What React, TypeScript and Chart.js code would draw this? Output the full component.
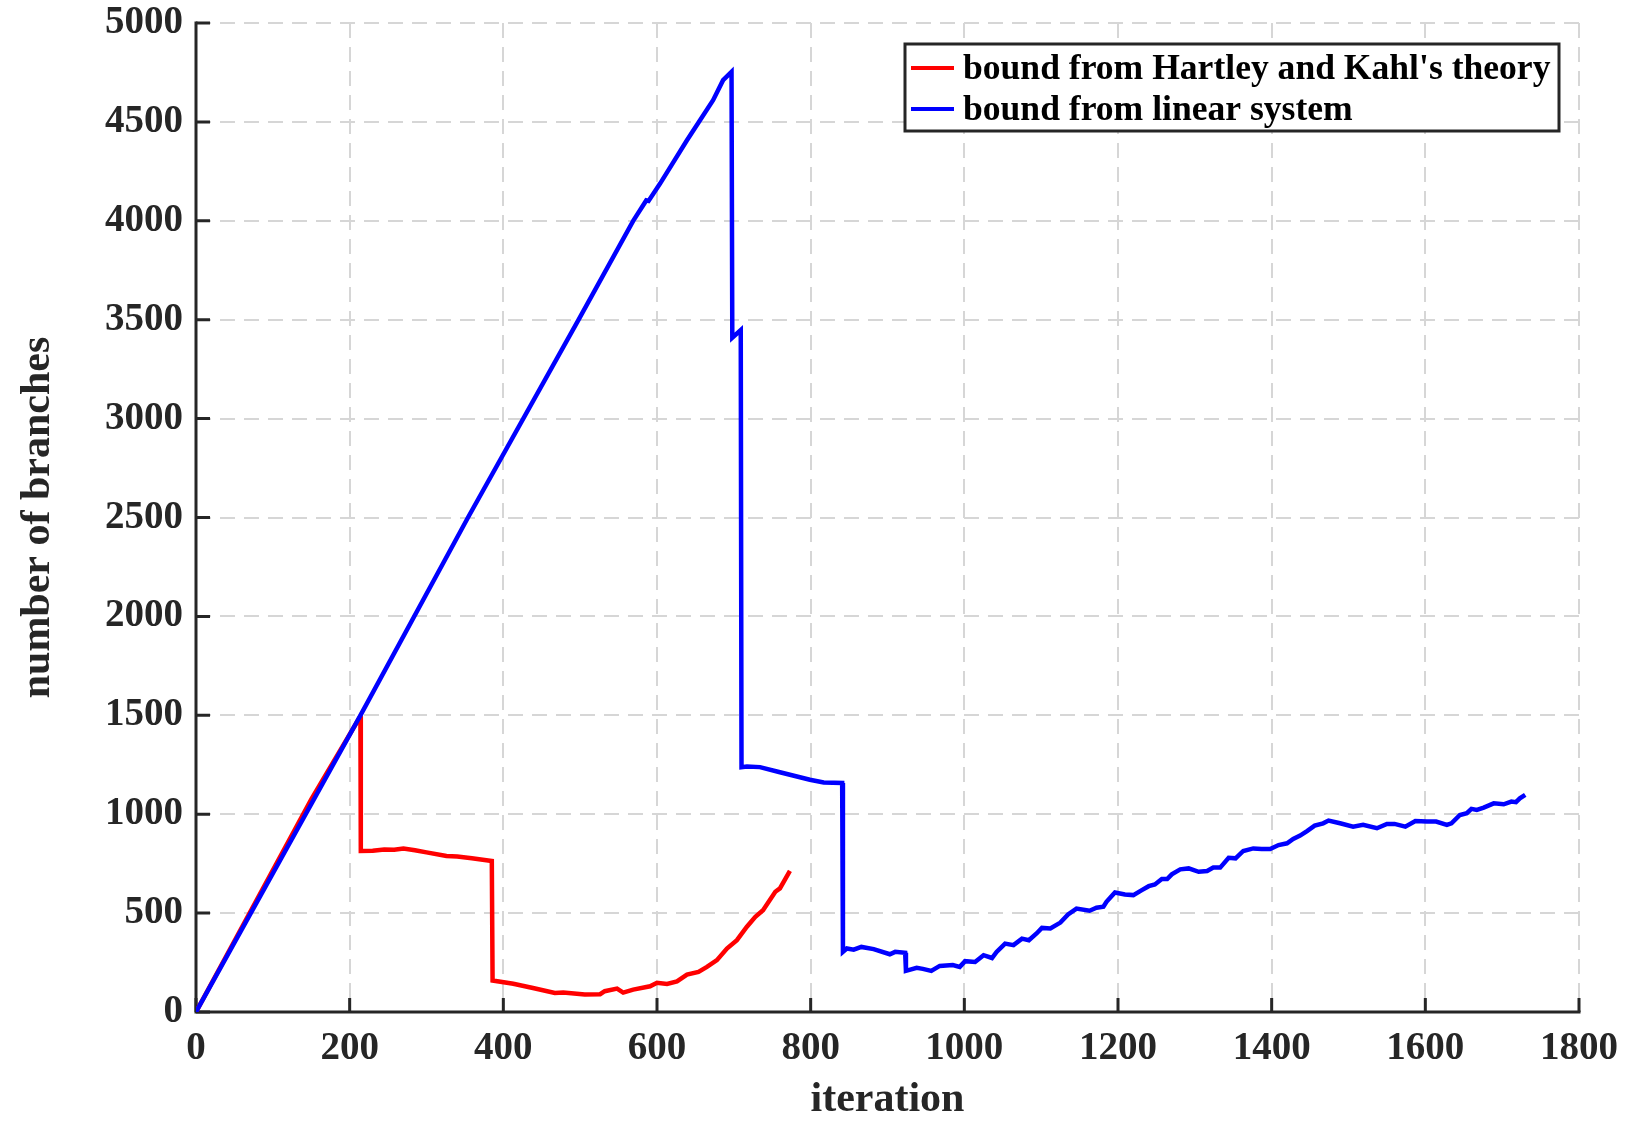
import React, { useEffect, useRef } from "react";
import { Chart, registerables } from "chart.js";

Chart.register(...registerables);

const xTicks = [0, 200, 400, 600, 800, 1000, 1200, 1400, 1600, 1800];
const yTicks = [0, 500, 1000, 1500, 2000, 2500, 3000, 3500, 4000, 4500, 5000];

const legendLabels = ["bound from Hartley and Kahl's theory", "bound from linear system"];
const seriesColors = ["#ff0000", "#0000ff"];

const redIter = [
  0, 150, 214, 214.5, 230, 245, 258, 270, 285, 300, 326, 340, 359, 385, 386, 413, 440, 467, 478, 506,
  526, 532, 548, 556, 569, 591, 600, 613, 626, 639, 654, 665, 678, 691, 704, 717, 728, 738, 754, 760, 773,
];
const redBranches = [
  0, 1075, 1495, 814, 815, 822, 820, 827, 818, 807, 789, 786, 777, 763, 159, 143, 120, 96, 99, 88,
  90, 105, 118, 98, 113, 130, 148, 142, 155, 189, 203, 228, 262, 321, 363, 431, 481, 515, 608, 625, 713,
];

const blueIter = [
  0, 214, 354, 498, 569, 586, 589, 604, 639, 673, 686, 697, 698, 709, 710, 717, 734, 760, 799, 817,
  841, 842, 847, 856, 866, 882, 903, 910, 923, 924, 938, 946, 957, 968, 985, 994, 1001, 1014, 1025, 1036,
  1042, 1053, 1064, 1075, 1084, 1094, 1101, 1112, 1125, 1135, 1146, 1163, 1172, 1181, 1185, 1196, 1209, 1220, 1231, 1240,
  1248, 1257, 1264, 1270, 1281, 1292, 1305, 1316, 1324, 1333, 1344, 1353, 1363, 1376, 1387, 1398, 1409, 1420, 1428, 1437,
  1446, 1456, 1467, 1474, 1489, 1506, 1519, 1537, 1550, 1560, 1574, 1587, 1602, 1614, 1628, 1634, 1645, 1654, 1660, 1667,
  1676, 1689, 1702, 1712, 1718, 1723, 1730,
];
const blueBranches = [
  0, 1500, 2500, 3500, 4000, 4103, 4100, 4188, 4407, 4610, 4711, 4753, 3409, 3448, 1238, 1241, 1238, 1212, 1174, 1160,
  1158, 304, 321, 315, 329, 318, 292, 304, 299, 208, 223, 218, 208, 233, 237, 228, 257, 253, 287, 273,
  304, 346, 338, 371, 363, 397, 425, 422, 452, 493, 523, 512, 527, 532, 557, 604, 594, 591, 616, 636,
  645, 672, 672, 696, 721, 726, 709, 713, 730, 730, 780, 777, 814, 827, 824, 824, 844, 853, 875, 892,
  915, 942, 954, 968, 954, 937, 946, 929, 951, 951, 937, 966, 963, 963, 946, 954, 996, 1005, 1027, 1022,
  1033, 1055, 1050, 1064, 1061, 1080, 1098,
];

const FONT = "'Liberation Serif', 'Times New Roman', serif";
const AXIS_COLOR = "#262626";

export default function App() {
  const ref = useRef<HTMLCanvasElement>(null);

  useEffect(() => {
    const canvas = ref.current;
    if (!canvas) return;

    const axesPlugin = {
      id: "matlabAxes",
      beforeDatasetsDraw(chart: any) {
        const { ctx, chartArea: a, scales } = chart;
        const x = scales.x;
        const y = scales.y;
        ctx.save();
        ctx.strokeStyle = AXIS_COLOR;
        ctx.lineWidth = 3;
        ctx.lineJoin = "miter";
        ctx.lineCap = "square";
        ctx.beginPath();
        ctx.moveTo(a.left, a.top);
        ctx.lineTo(a.left, a.bottom);
        ctx.lineTo(a.right, a.bottom);
        ctx.stroke();
        ctx.lineCap = "butt";
        ctx.beginPath();
        for (const v of xTicks) {
          const px = x.getPixelForValue(v);
          ctx.moveTo(px, a.bottom);
          ctx.lineTo(px, a.bottom - 14);
        }
        for (const v of yTicks) {
          const py = y.getPixelForValue(v);
          ctx.moveTo(a.left, py);
          ctx.lineTo(a.left + 14, py);
        }
        ctx.stroke();
        ctx.restore();
      },
    };

    const legendPlugin = {
      id: "boxLegend",
      afterDraw(chart: any) {
        const { ctx, chartArea: a } = chart;
        const right = a.right - 20;
        const left = right - 654;
        const top = a.top + 21;
        const h = 87;
        ctx.save();
        ctx.fillStyle = "#ffffff";
        ctx.fillRect(left, top, right - left, h);
        ctx.strokeStyle = AXIS_COLOR;
        ctx.lineWidth = 3;
        ctx.strokeRect(left, top, right - left, h);
        ctx.font = `bold 35.6px ${FONT}`;
        ctx.textBaseline = "middle";
        ctx.textAlign = "left";
        legendLabels.forEach((label, i) => {
          const yy = top + 24 + i * 41;
          ctx.strokeStyle = seriesColors[i];
          ctx.lineWidth = 4;
          ctx.beginPath();
          ctx.moveTo(left + 6, yy);
          ctx.lineTo(left + 49, yy);
          ctx.stroke();
          ctx.fillStyle = "#000000";
          ctx.fillText(label, left + 58, yy + 2);
        });
        ctx.restore();
      },
    };

    const tickFont = { family: FONT, size: 39, weight: "bold" as const };
    const titleFont = { family: FONT, size: 42, weight: "bold" as const };

    const chart = new Chart(canvas, {
      type: "line",
      data: {
        datasets: [
          {
            label: legendLabels[0],
            data: redIter.map((v, i) => ({ x: v, y: redBranches[i] })),
            borderColor: seriesColors[0],
            borderWidth: 4.5,
            pointRadius: 0,
            tension: 0,
            fill: false,
            order: 2,
          },
          {
            label: legendLabels[1],
            data: blueIter.map((v, i) => ({ x: v, y: blueBranches[i] })),
            borderColor: seriesColors[1],
            borderWidth: 4.5,
            pointRadius: 0,
            tension: 0,
            fill: false,
            order: 1,
          },
        ],
      },
      options: {
        responsive: false,
        animation: false,
        devicePixelRatio: 1,
        layout: { padding: { left: 0, right: 51, top: 23, bottom: 0 } },
        plugins: {
          legend: { display: false },
          tooltip: { enabled: false },
        },
        scales: {
          x: {
            type: "linear",
            min: 0,
            max: 1800,
            afterFit: (s: any) => {
              s.height = 113;
              s.paddingLeft = 0;
              s.paddingRight = 0;
            },
            afterBuildTicks: (s: any) => {
              s.ticks = xTicks.map((v) => ({ value: v }));
            },
            ticks: {
              autoSkip: false,
              maxRotation: 0,
              padding: 14,
              color: AXIS_COLOR,
              font: tickFont,
              callback: (v: any) => String(v),
            },
            grid: { color: "#d6d6d6", lineWidth: 2, drawTicks: false },
            border: { display: false, dash: [15, 9] },
            title: {
              display: true,
              text: "iteration",
              color: AXIS_COLOR,
              font: titleFont,
              padding: { top: 0, bottom: 0 },
            },
          },
          y: {
            type: "linear",
            min: 0,
            max: 5000,
            afterFit: (s: any) => {
              s.width = 196;
              s.paddingTop = 0;
              s.paddingBottom = 0;
            },
            afterBuildTicks: (s: any) => {
              s.ticks = yTicks.map((v) => ({ value: v }));
            },
            ticks: {
              autoSkip: false,
              padding: 13,
              color: AXIS_COLOR,
              font: tickFont,
              callback: (v: any) => String(v),
            },
            grid: { color: "#d6d6d6", lineWidth: 2, drawTicks: false },
            border: { display: false, dash: [15, 9] },
            title: {
              display: true,
              text: "number of branches",
              color: AXIS_COLOR,
              font: titleFont,
              padding: { top: 13, bottom: 0 },
            },
          },
        },
      },
      plugins: [axesPlugin, legendPlugin],
    });

    return () => chart.destroy();
  }, []);

  return (
    <div style={{ position: "fixed", left: 0, top: 0, width: 1630, height: 1125, background: "#fff" }}>
      <canvas ref={ref} width={1630} height={1125} style={{ display: "block" }} />
    </div>
  );
}
